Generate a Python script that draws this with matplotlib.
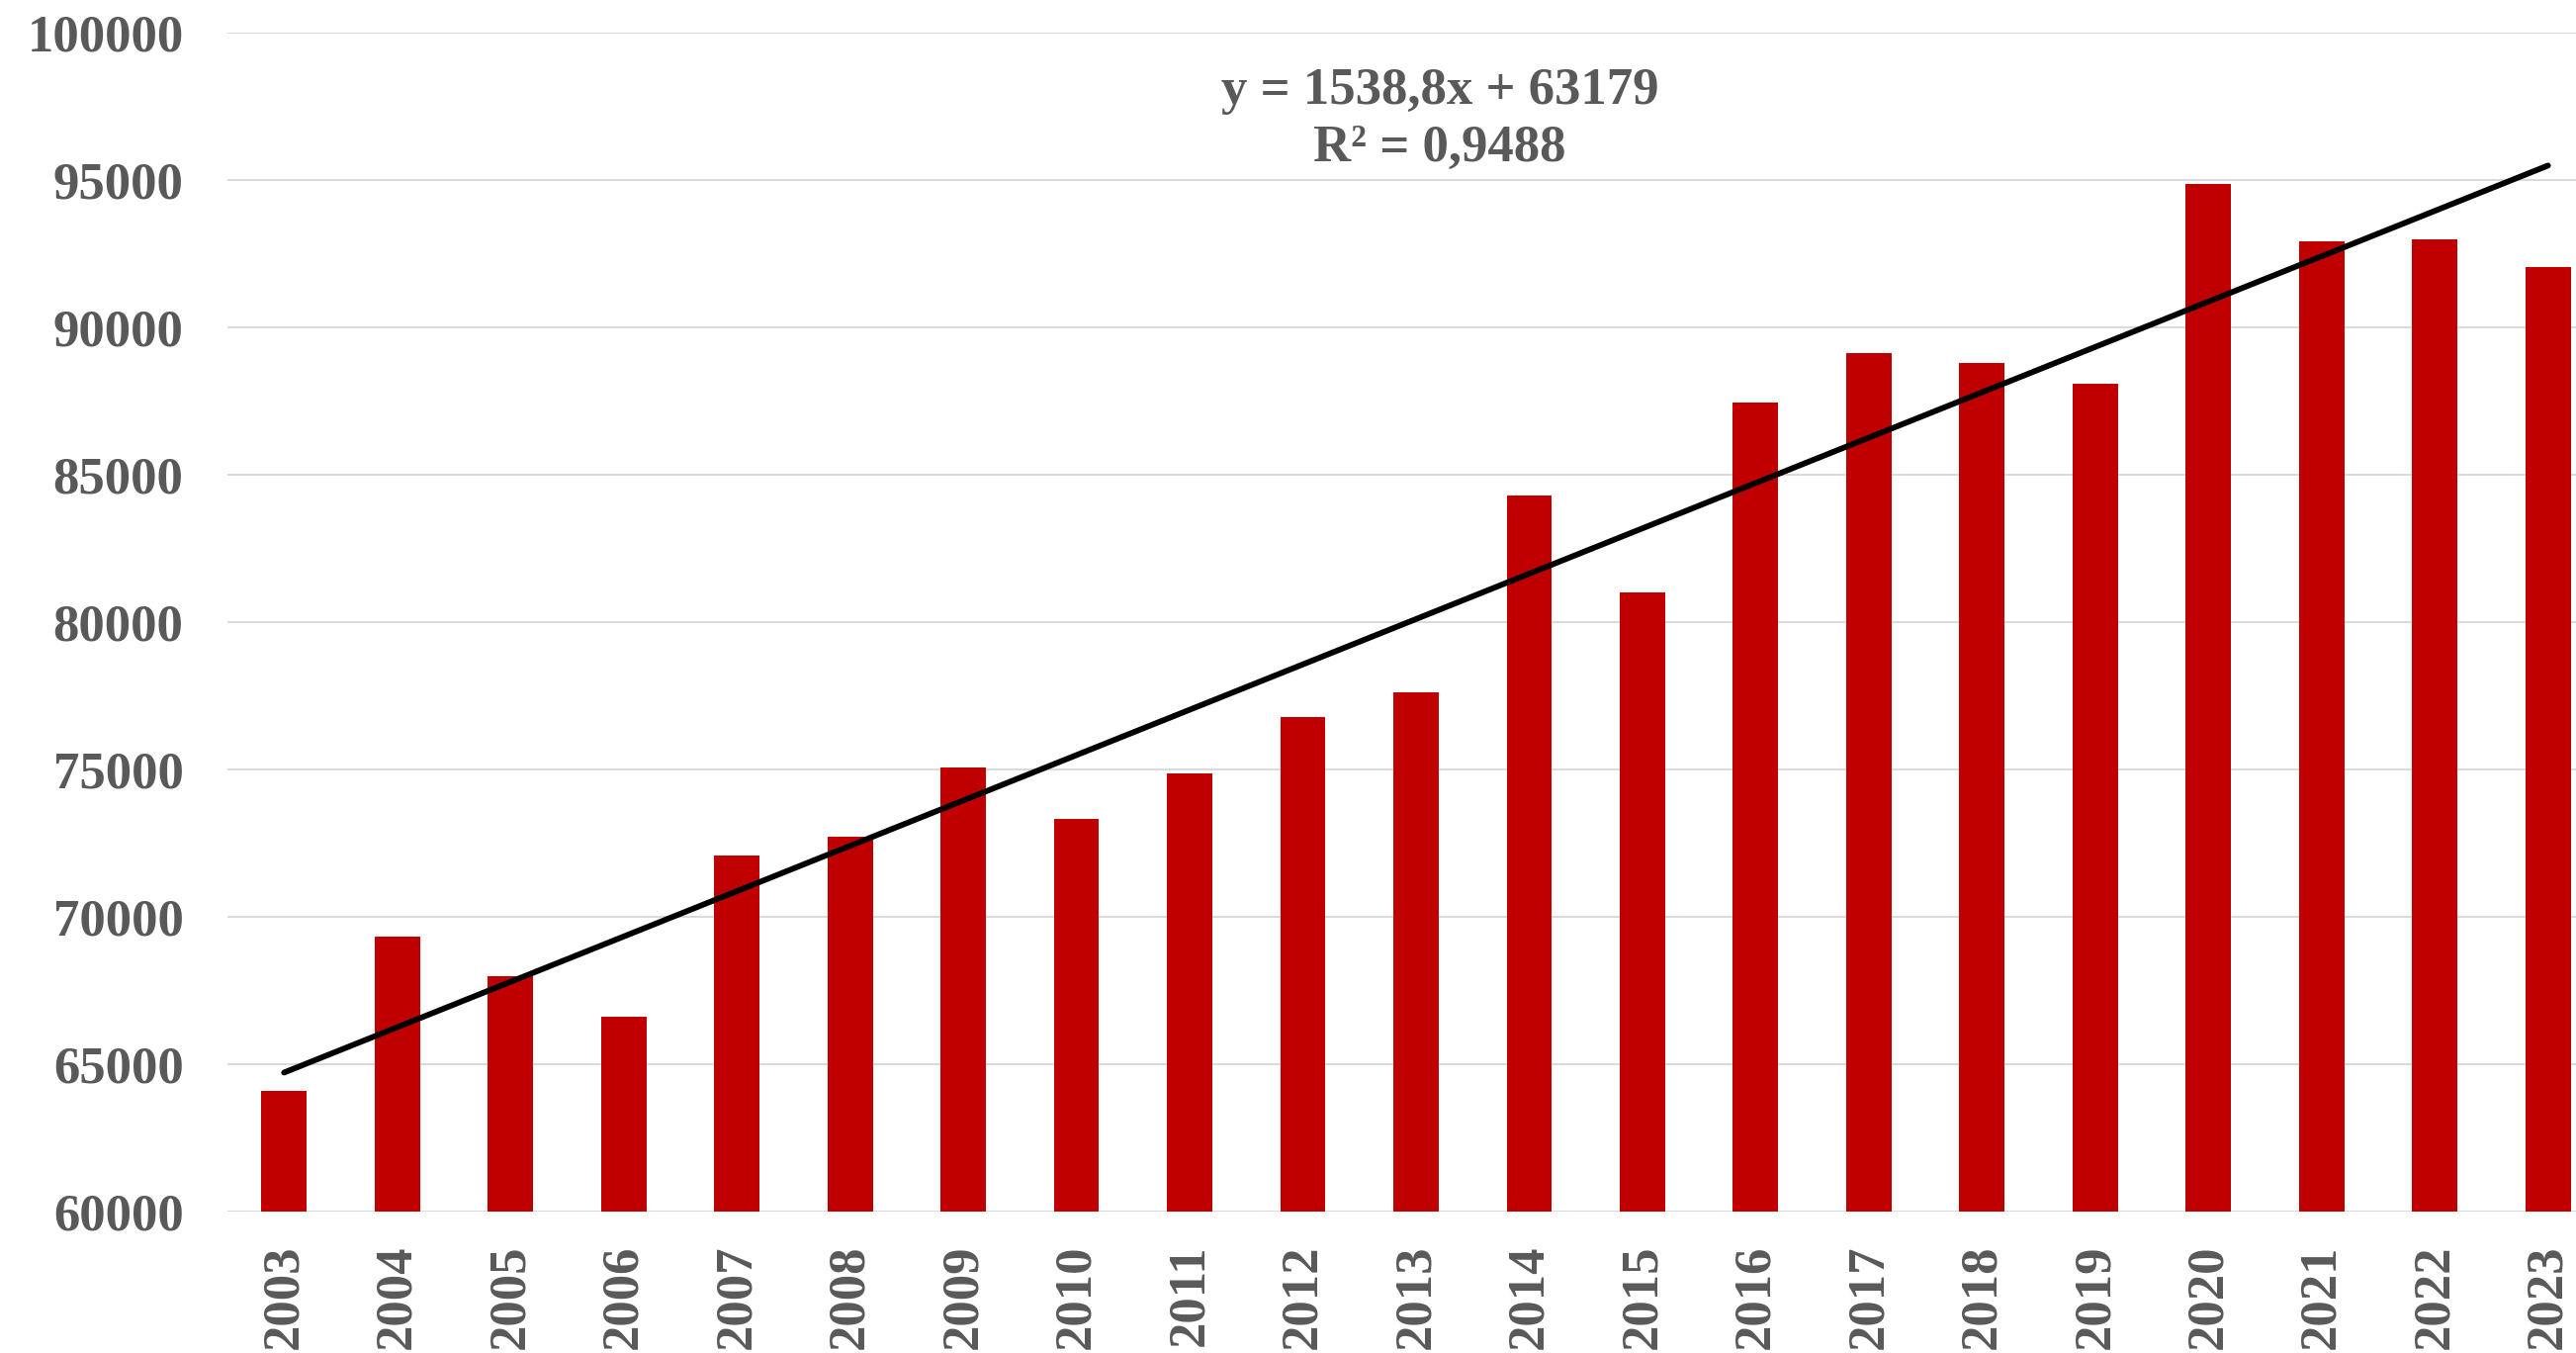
import numpy as np
import matplotlib
matplotlib.use("Agg")
import matplotlib.pyplot as plt

years = [str(y) for y in range(2003, 2024)]
values = [64094, 69318, 67998, 66600, 72092, 72707, 75078, 73322, 74856, 76767,
          77606, 84284, 80996, 87460, 89116, 88792, 88076, 94877, 92931, 92975, 92047]

# linear trend as reported on the chart (x = 1..n)
slope = 1538.8
intercept = 63179
r2_text = "0,9488"

BAR_COLOR = "#C00000"
TEXT_COLOR = "#595959"
GRID_COLOR = "#D9D9D9"

plt.rcParams["font.family"] = ["Liberation Serif", "DejaVu Serif"]
plt.rcParams["font.weight"] = "bold"

fig = plt.figure(figsize=(26.05, 13.68), dpi=100)
ax = fig.add_axes([0.0883, 0.1045, 0.9228, 0.8713])

x = np.arange(len(years))
ax.bar(x, values, width=0.4, color=BAR_COLOR, zorder=2)

trend_x = np.array([x[0], x[-1]])
trend_y = slope * (trend_x + 1) + intercept
ax.plot(trend_x, trend_y, color="black", linewidth=4.2,
        solid_capstyle="round", zorder=3)

ax.set_xlim(-0.5, len(years) - 0.5)
ax.set_ylim(60000, 100000)
ax.set_yticks(np.arange(60000, 100001, 5000))
ax.set_xticks(x)
ax.set_xticklabels(years, rotation=90)

ax.yaxis.grid(True, color=GRID_COLOR, linewidth=1.4, zorder=0)
ax.set_axisbelow(True)
for s in ax.spines.values():
    s.set_visible(False)

ax.tick_params(axis="both", length=0, labelsize=38, labelcolor=TEXT_COLOR)
ax.tick_params(axis="y", pad=32)
ax.tick_params(axis="x", pad=24)
for lbl in ax.get_xticklabels() + ax.get_yticklabels():
    lbl.set_fontweight("bold")

fig.text(0.559, 0.9115, f"y = {slope:.1f}x + {intercept}".replace(".", ",") + f"\nR² = {r2_text}",
         ha="center", va="center", fontsize=38, fontweight="bold",
         color=TEXT_COLOR, linespacing=1.28)

fig.savefig("out.png", dpi=100)
